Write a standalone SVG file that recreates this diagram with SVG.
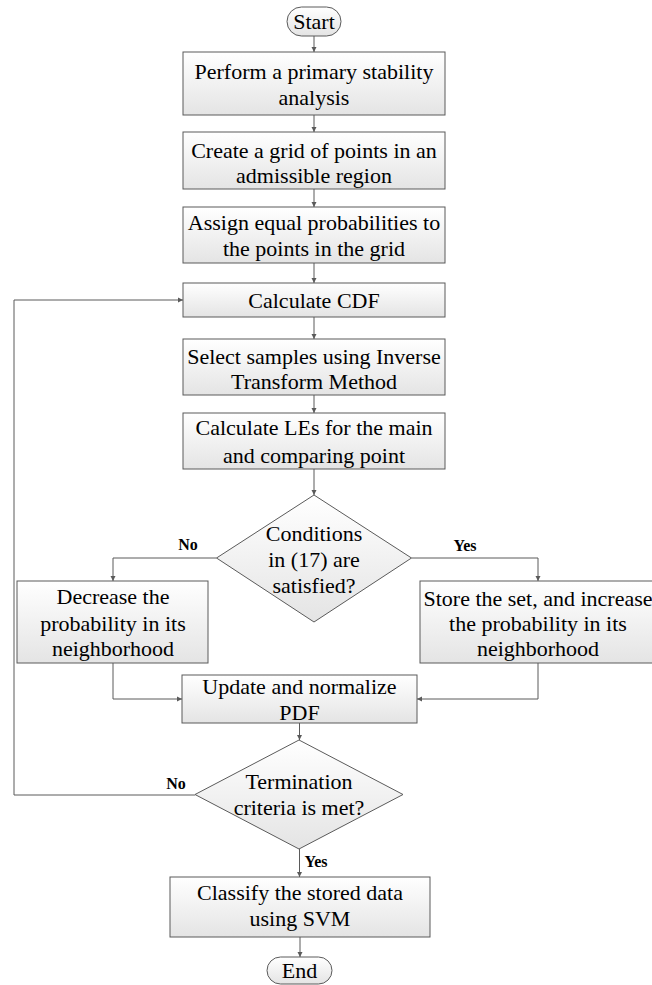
<svg xmlns="http://www.w3.org/2000/svg" width="652" height="985" viewBox="0 0 652 985">
<style>
.box{stroke:#5a5a5a;stroke-width:1;fill:url(#g)}
.t{font-family:"Liberation Serif","Times New Roman",serif;font-size:22px;fill:#000;text-anchor:middle}
.lbl{font-family:"Liberation Serif","Times New Roman",serif;font-size:16px;font-weight:bold;fill:#000;text-anchor:middle}
.c{fill:none;stroke:#5a5a5a;stroke-width:1;marker-end:url(#a)}
</style>
<defs>
<linearGradient id="g" x1="0" y1="0" x2="0" y2="1">
<stop offset="0" stop-color="#ffffff"/>
<stop offset="1" stop-color="#e4e4e4"/>
</linearGradient>
<marker id="a" markerUnits="userSpaceOnUse" markerWidth="6" markerHeight="6" refX="5" refY="3" orient="auto">
<path d="M0,0.5 L5,3 L0,5.5 z" fill="#5a5a5a"/>
</marker>
</defs>
<rect width="652" height="985" fill="#ffffff"/>
<g id="connectors">
<path class="c" d="M314,36 V52"/>
<path class="c" d="M314,115 V132"/>
<path class="c" d="M314,189 V207"/>
<path class="c" d="M314,263 V283"/>
<path class="c" d="M314,317 V339"/>
<path class="c" d="M314,395 V413"/>
<path class="c" d="M314,469 V495"/>
<path class="c" d="M216.5,558 H113 V581"/>
<path class="c" d="M411.5,558 H538 V581"/>
<path class="c" d="M113,663 V699 H182"/>
<path class="c" d="M538,663 V699 H417"/>
<path class="c" d="M299.5,723 V740"/>
<path class="c" d="M195,795 H14 V300 H183"/>
<path class="c" d="M299.5,849 V877"/>
<path class="c" d="M300,937 V957"/>
<text class="lbl" x="188" y="550">No</text>
<text class="lbl" x="465" y="551">Yes</text>
<text class="lbl" x="176" y="789">No</text>
<text class="lbl" x="316" y="867">Yes</text>
</g>
<g id="start">
<rect class="box" x="287" y="7" width="54" height="29" rx="14.5"/>
<text class="t" x="314" y="29">Start</text>
</g>
<g id="n1">
<rect class="box" x="183" y="52" width="262" height="63"/>
<text class="t" x="314" y="79">Perform a primary stability</text>
<text class="t" x="314" y="105">analysis</text>
</g>
<g id="n2">
<rect class="box" x="183" y="132" width="262" height="57"/>
<text class="t" x="314" y="158">Create a grid of points in an</text>
<text class="t" x="314" y="183">admissible region</text>
</g>
<g id="n3">
<rect class="box" x="183" y="207" width="262" height="56"/>
<text class="t" x="314" y="230">Assign equal probabilities to</text>
<text class="t" x="314" y="256">the points in the grid</text>
</g>
<g id="n4">
<rect class="box" x="183" y="283" width="262" height="34"/>
<text class="t" x="314" y="308">Calculate CDF</text>
</g>
<g id="n5">
<rect class="box" x="183" y="339" width="262" height="56"/>
<text class="t" x="314" y="364">Select samples using Inverse</text>
<text class="t" x="314" y="389">Transform Method</text>
</g>
<g id="n6">
<rect class="box" x="183" y="413" width="262" height="56"/>
<text class="t" x="314" y="435">Calculate LEs for the main</text>
<text class="t" x="314" y="463">and comparing point</text>
</g>
<g id="d1">
<polygon class="box" points="314,495 411.5,558 314,622 216.5,558"/>
<text class="t" x="314" y="541">Conditions</text>
<text class="t" x="314" y="567">in (17) are</text>
<text class="t" x="314" y="593">satisfied?</text>
</g>
<g id="n7">
<rect class="box" x="17" y="581" width="191" height="82"/>
<text class="t" x="113" y="604">Decrease the</text>
<text class="t" x="113" y="631">probability in its</text>
<text class="t" x="113" y="656">neighborhood</text>
</g>
<g id="n8">
<rect class="box" x="420" y="581" width="236" height="82"/>
<text class="t" x="538" y="606">Store the set, and increase</text>
<text class="t" x="538" y="631">the probability in its</text>
<text class="t" x="538" y="656">neighborhood</text>
</g>
<g id="n9">
<rect class="box" x="182" y="675" width="235" height="48"/>
<text class="t" x="299.5" y="694">Update and normalize</text>
<text class="t" x="299.5" y="720">PDF</text>
</g>
<g id="d2">
<polygon class="box" points="299,740 403,794.5 299,849 195,794.5"/>
<text class="t" x="299" y="789">Termination</text>
<text class="t" x="299" y="815">criteria is met?</text>
</g>
<g id="n10">
<rect class="box" x="170" y="877" width="260" height="60"/>
<text class="t" x="300" y="900">Classify the stored data</text>
<text class="t" x="300" y="926">using SVM</text>
</g>
<g id="end">
<rect class="box" x="267" y="957" width="65" height="27" rx="13.5"/>
<text class="t" x="299.5" y="978">End</text>
</g>
</svg>
